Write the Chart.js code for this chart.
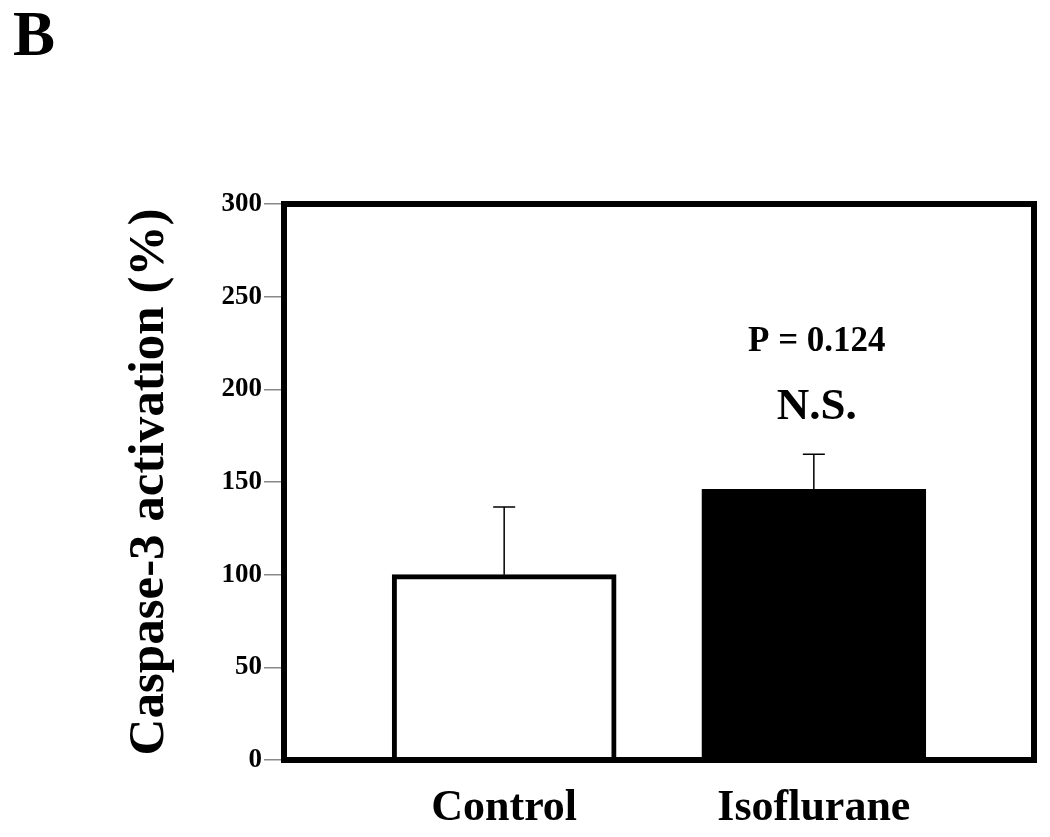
<!DOCTYPE html>
<html>
<head>
<meta charset="utf-8">
<script src="https://cdn.jsdelivr.net/npm/chart.js@4.4.1/dist/chart.umd.min.js"></script>
<style>
  html, body { margin: 0; padding: 0; background: #ffffff; }
  #wrap { width: 1050px; height: 837px; position: relative; }
</style>
</head>
<body>
<div id="wrap"><canvas id="c" width="1050" height="837"></canvas></div>
<script>
// ---- data ----
const categories = ['Control', 'Isoflurane'];
const meanValues = [100, 146];
const errorValues = [36.5, 19];
const barFills = ['#ffffff', '#000000'];
const yTickValues = [0, 50, 100, 150, 200, 250, 300];
const annotationLabels = ['P = 0.124', 'N.S.'];
const panelLetter = 'B';
const yTitle = 'Caspase-3 activation (%)';

const SERIF = '"Liberation Serif", "Times New Roman", serif';

const points = categories.map((c, i) => ({ x: i, y: meanValues[i] }));

const overlayPlugin = {
  id: 'overlay',
  afterDatasetsDraw(chart) {
    const ctx = chart.ctx;
    const xs = chart.scales.x, ys = chart.scales.y;
    const area = chart.chartArea;
    ctx.save();
    // error bars (upper only)
    ctx.strokeStyle = '#000';
    ctx.lineWidth = 1.5;
    meanValues.forEach((v, i) => {
      const px = xs.getPixelForValue(i);
      const y0 = ys.getPixelForValue(v);
      const y1 = ys.getPixelForValue(v + errorValues[i]);
      ctx.beginPath();
      ctx.moveTo(px, y0);
      ctx.lineTo(px, y1);
      ctx.moveTo(px - 11, y1);
      ctx.lineTo(px + 11, y1);
      ctx.stroke();
    });
    // frame
    ctx.lineWidth = 6;
    ctx.strokeStyle = '#000';
    ctx.strokeRect(area.left, area.top, area.right - area.left, area.bottom - area.top);
    // significance annotation above Isoflurane
    const ix = xs.getPixelForValue(1);
    const iy = ys.getPixelForValue(meanValues[1] + errorValues[1]);
    ctx.fillStyle = '#000';
    ctx.textAlign = 'center';
    ctx.textBaseline = 'middle';
    ctx.font = 'bold 35px ' + SERIF;
    ctx.fillText(annotationLabels[0], ix + 3, iy - 112);
    ctx.font = 'bold 45px ' + SERIF;
    ctx.fillText(annotationLabels[1], ix + 3, iy - 47);
    // panel letter
    ctx.textAlign = 'left';
    ctx.textBaseline = 'alphabetic';
    ctx.font = 'bold 63px ' + SERIF;
    ctx.fillText(panelLetter, 13, 55);
    ctx.restore();
  }
};

new Chart(document.getElementById('c'), {
  type: 'bar',
  data: {
    datasets: [{
      data: points,
      backgroundColor: barFills,
      borderColor: '#000000',
      borderWidth: 5,
      borderSkipped: 'start',
      barThickness: 224
    }]
  },
  options: {
    responsive: false,
    animation: false,
    devicePixelRatio: 1,
    layout: { padding: { top: 204, right: 16, bottom: 0, left: 0 } },
    plugins: { legend: { display: false }, tooltip: { enabled: false } },
    scales: {
      x: {
        type: 'linear',
        offset: false,
        bounds: 'data',
        min: -0.711,
        max: 1.711,
        afterBuildTicks(scale) { scale.ticks = categories.map((c, i) => ({ value: i })); },
        afterFit(scale) { scale.height = 77; },
        grid: { display: false, offset: false },
        border: { display: false },
        ticks: {
          callback: (v) => categories[v] ?? '',
          color: '#000',
          padding: 14,
          autoSkip: false,
          maxRotation: 0,
          font: { family: SERIF, weight: 'bold', size: 44 }
        }
      },
      y: {
        min: 0,
        max: 300,
        afterBuildTicks(scale) { scale.ticks = yTickValues.map(v => ({ value: v })); },
        afterFit(scale) { scale.width = 284; },
        grid: { drawOnChartArea: false, drawTicks: true, tickLength: 20, color: '#888888', lineWidth: 1.5 },
        border: { display: false },
        ticks: {
          color: '#000',
          padding: 2,
          font: { family: SERIF, weight: 'bold', size: 27 }
        },
        title: {
          display: true,
          text: yTitle,
          color: '#000',
          padding: { top: 119, bottom: 0 },
          font: { family: SERIF, weight: 'bold', size: 51, lineHeight: 1.2 }
        }
      }
    }
  },
  plugins: [overlayPlugin]
});
</script>
</body>
</html>
